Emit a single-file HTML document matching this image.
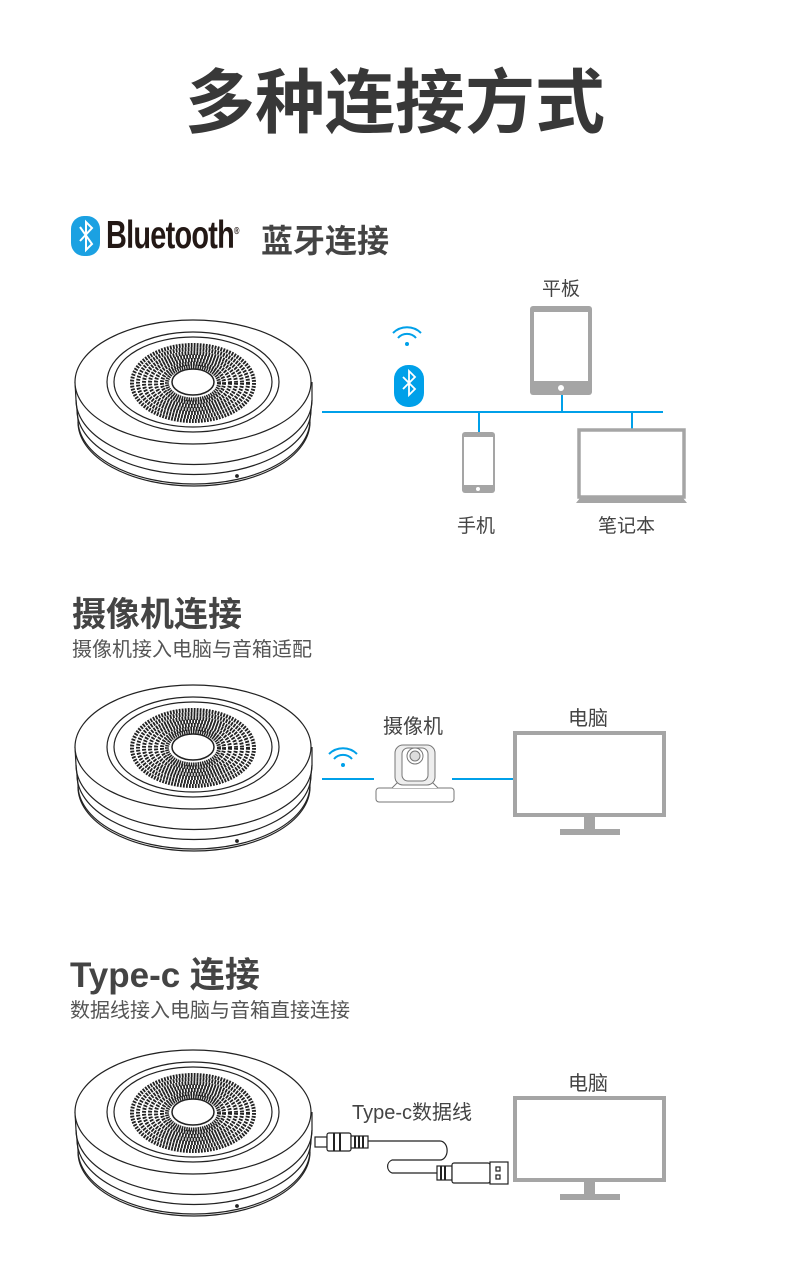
<!DOCTYPE html>
<html><head><meta charset="utf-8"><style>
body{margin:0;width:790px;height:1268px;background:#fff;position:relative;overflow:hidden;font-family:"Liberation Sans","Noto Sans CJK SC",sans-serif;color:#333}
.t{position:absolute;white-space:nowrap}
svg{position:absolute;left:0;top:0}
</style></head><body>
<div class="t" style="left:0;width:790px;text-align:center;top:58px;font-size:70px;font-weight:bold;color:#383838;line-height:90px">多种连接方式</div>
<div class="t" style="left:106px;top:214px;font-size:39px;font-weight:bold;color:#231815;letter-spacing:-1px;transform:scaleX(0.74);transform-origin:left;font-family:'Liberation Sans Narrow','Liberation Sans',sans-serif">Bluetooth<sup style="font-size:10px">®</sup></div>
<div class="t" style="left:261px;top:216px;font-size:32px;font-weight:bold;color:#444">蓝牙连接</div>
<div class="t" style="left:542px;top:274px;font-size:19px;color:#444">平板</div>
<div class="t" style="left:457px;top:511px;font-size:19px;color:#444">手机</div>
<div class="t" style="left:598px;top:511px;font-size:19px;color:#444">笔记本</div>
<div class="t" style="left:72px;top:587px;font-size:34px;font-weight:bold;color:#444">摄像机连接</div>
<div class="t" style="left:72px;top:633px;font-size:20px;color:#555">摄像机接入电脑与音箱适配</div>
<div class="t" style="left:383px;top:710px;font-size:20px;color:#444">摄像机</div>
<div class="t" style="left:568px;top:702px;font-size:20px;color:#444">电脑</div>
<div class="t" style="left:70px;top:947px;font-size:35px;font-weight:bold;color:#444">Type-c 连接</div>
<div class="t" style="left:70px;top:994px;font-size:20px;color:#555">数据线接入电脑与音箱直接连接</div>
<div class="t" style="left:352px;top:1096px;font-size:20px;color:#444">Type-c数据线</div>
<div class="t" style="left:568px;top:1067px;font-size:20px;color:#444">电脑</div>
<svg width="790" height="1268" viewBox="0 0 790 1268">
<defs>
<g id="spk" fill="none" stroke="#222" stroke-width="1.2">
<path d="M75,382 L76,400 L77,410 L78,420 A116,64 0 0 0 310,420 L311,410 L312,400 L312,382" fill="#fff"/>
<ellipse cx="193" cy="382" rx="118" ry="62" fill="#fff"/>
<path d="M76,400 A117,64 0 0 0 312,400"/>
<path d="M77,410 A116,64 0 0 0 311,410"/>
<path d="M78,420 A116,64 0 0 0 310,420" transform="translate(0,2)"/>
<ellipse cx="193" cy="382" rx="86" ry="50"/>
<ellipse cx="193" cy="382" rx="79" ry="45"/>
<ellipse cx="193" cy="383" rx="61" ry="38" stroke-width="4" stroke-dasharray="1.8 1.2"/>
<ellipse cx="193" cy="383" rx="55" ry="34" stroke-width="4" stroke-dasharray="1.8 1.2"/>
<ellipse cx="193" cy="383" rx="49" ry="30" stroke-width="4" stroke-dasharray="1.8 1.2"/>
<ellipse cx="193" cy="383" rx="43" ry="26.5" stroke-width="4" stroke-dasharray="1.8 1.2"/>
<ellipse cx="193" cy="383" rx="37" ry="23" stroke-width="4" stroke-dasharray="1.8 1.2"/>
<ellipse cx="193" cy="383" rx="31" ry="19.5" stroke-width="4" stroke-dasharray="1.8 1"/>
<ellipse cx="193" cy="383" rx="26" ry="16.5" stroke-width="4" stroke-dasharray="1.5 0.8"/>
<ellipse cx="193" cy="382" rx="21" ry="13" fill="#fff" stroke-width="1.5"/>
<circle cx="237" cy="476" r="1.3" fill="#222"/>
</g>
<g id="wifi" fill="none" stroke="#00a0e9" stroke-width="2">
<path d="M-14,-7 A20,20 0 0 1 14,-7"/><path d="M-9,-2 A12,12 0 0 1 9,-2"/><circle cx="0" cy="4" r="2" fill="#00a0e9" stroke="none"/>
</g>
<g id="mon">
<rect x="515" y="733" width="149" height="82" fill="none" stroke="#a5a5a5" stroke-width="4"/>
<rect x="584" y="817" width="11" height="13" fill="#a5a5a5"/>
<rect x="560" y="829" width="60" height="6" fill="#a5a5a5"/>
</g>
</defs>
<rect x="71" y="216" width="29" height="40" rx="13" fill="#1ba1e2"/>
<path d="M80,227 L92,244 L86,250 L86,222 L92,228 L80,241" fill="none" stroke="#fff" stroke-width="2"/>
<use href="#spk"/>
<line x1="322" y1="412" x2="663" y2="412" stroke="#00a0e9" stroke-width="2"/>
<use href="#wifi" transform="translate(407,340)"/>
<rect x="394" y="365" width="30" height="42" rx="14" fill="#00a0e9"/>
<path d="M403,377 L415,389 L409,395 L409,371 L415,377 L403,389" fill="none" stroke="#fff" stroke-width="1.8"/>
<line x1="562" y1="395" x2="562" y2="412" stroke="#00a0e9" stroke-width="2"/>
<line x1="479" y1="412" x2="479" y2="432" stroke="#00a0e9" stroke-width="2"/>
<line x1="632" y1="412" x2="632" y2="429" stroke="#00a0e9" stroke-width="2"/>
<rect x="530" y="306" width="62" height="89" rx="3" fill="#a5a5a5"/>
<rect x="534" y="312" width="54" height="69" fill="#fff"/>
<circle cx="561" cy="388" r="3" fill="#fff"/>
<rect x="462" y="432" width="33" height="61" rx="3" fill="#a5a5a5"/>
<rect x="464" y="437" width="29" height="48" fill="#fff"/>
<circle cx="478" cy="489" r="2" fill="#fff"/>
<rect x="579" y="430" width="105" height="67" fill="none" stroke="#a5a5a5" stroke-width="3.5"/>
<path d="M580,498 L683,498 L687,503 L576,503 Z" fill="#a5a5a5"/>
<use href="#spk" transform="translate(0,365)"/>
<use href="#wifi" transform="translate(343,761)"/>
<line x1="322" y1="779" x2="374" y2="779" stroke="#00a0e9" stroke-width="2"/>
<line x1="452" y1="779" x2="514" y2="779" stroke="#00a0e9" stroke-width="2"/>
<g fill="#fff" stroke="#777" stroke-width="1">
<rect x="376" y="788" width="78" height="14" rx="3"/>
<path d="M392,788 L397,783 L433,783 L438,788"/>
<rect x="395" y="745" width="40" height="40" rx="8" fill="#eee"/>
<rect x="402" y="748" width="26" height="33" rx="6"/>
<circle cx="415" cy="756" r="8"/><circle cx="415" cy="756" r="5" fill="#ddd"/>
</g>
<use href="#mon"/>
<use href="#spk" transform="translate(0,730)"/>
<use href="#mon" transform="translate(0,365)"/>
<g fill="#fff" stroke="#222" stroke-width="1.2">
<rect x="315" y="1137" width="12" height="10"/>
<rect x="327" y="1133" width="24" height="18" rx="2"/>
<rect x="351" y="1136" width="17" height="12"/>
<path d="M368,1141 L440,1141 A6,8 0 0 1 440,1160 L392,1160 A7,7 0 0 0 392,1173 L437,1173" fill="none"/>
<rect x="437" y="1166" width="15" height="14"/>
<rect x="452" y="1163" width="38" height="20" rx="2"/>
<rect x="490" y="1162" width="18" height="22"/>
<rect x="496" y="1167" width="4" height="4"/><rect x="496" y="1175" width="4" height="4"/>
</g>
<path d="M334,1133 v18 M340,1133 v18 M355,1136 v12 M359,1136 v12 M363,1136 v12 M441,1166 v14 M445,1166 v14" stroke="#222" stroke-width="2"/>
</svg>
</body></html>
